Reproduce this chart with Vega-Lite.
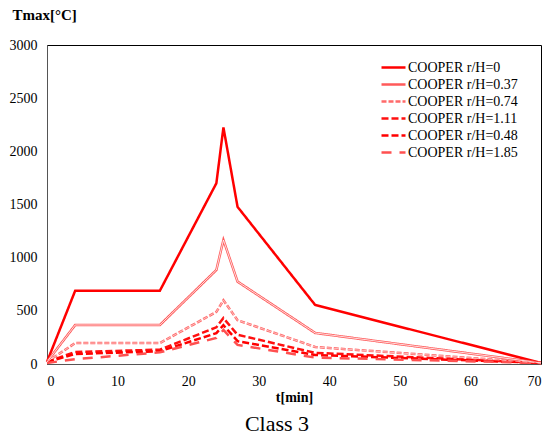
{
  "$schema": "https://vega.github.io/schema/vega-lite/v6.json",
  "width": 494,
  "height": 319,
  "autosize": {"type": "none"},
  "padding": {"left": 47, "top": 45, "right": 11, "bottom": 77},
  "background": "white",
  "config": {
    "font": "Times New Roman",
    "view": {"stroke": "#000", "strokeWidth": 1},
    "axis": {"grid": false, "domainColor": "#555", "tickColor": "#555", "labelColor": "#000", "titleColor": "#000", "labelFont": "Times New Roman", "titleFont": "Times New Roman", "labelFontSize": 14},
    "legend": {"labelFont": "Times New Roman", "titleFont": "Times New Roman"},
    "title": {"font": "Times New Roman"}
  },
  "title": {"text": "Class 3", "orient": "bottom", "fontSize": 22, "fontWeight": "normal", "color": "#000", "offset": 10, "anchor": "middle", "dx": -17},
  "data": {"values": [
    {"s": "COOPER r/H=0", "t": 0, "v": 20}, {"s": "COOPER r/H=0", "t": 4, "v": 690}, {"s": "COOPER r/H=0", "t": 16, "v": 690}, {"s": "COOPER r/H=0", "t": 24, "v": 1700}, {"s": "COOPER r/H=0", "t": 25, "v": 2225}, {"s": "COOPER r/H=0", "t": 27, "v": 1478}, {"s": "COOPER r/H=0", "t": 38, "v": 555}, {"s": "COOPER r/H=0", "t": 70, "v": 10},
    {"s": "COOPER r/H=0.37", "t": 0, "v": 20}, {"s": "COOPER r/H=0.37", "t": 4, "v": 367}, {"s": "COOPER r/H=0.37", "t": 16, "v": 367}, {"s": "COOPER r/H=0.37", "t": 24, "v": 884}, {"s": "COOPER r/H=0.37", "t": 25, "v": 1166}, {"s": "COOPER r/H=0.37", "t": 27, "v": 775}, {"s": "COOPER r/H=0.37", "t": 38, "v": 292}, {"s": "COOPER r/H=0.37", "t": 70, "v": 10},
    {"s": "COOPER r/H=0.74", "t": 0, "v": 20}, {"s": "COOPER r/H=0.74", "t": 4, "v": 197}, {"s": "COOPER r/H=0.74", "t": 16, "v": 197}, {"s": "COOPER r/H=0.74", "t": 24, "v": 490}, {"s": "COOPER r/H=0.74", "t": 25, "v": 600}, {"s": "COOPER r/H=0.74", "t": 27, "v": 412}, {"s": "COOPER r/H=0.74", "t": 38, "v": 160}, {"s": "COOPER r/H=0.74", "t": 70, "v": 10},
    {"s": "COOPER r/H=1.11", "t": 0, "v": 20}, {"s": "COOPER r/H=1.11", "t": 4, "v": 113}, {"s": "COOPER r/H=1.11", "t": 16, "v": 135}, {"s": "COOPER r/H=1.11", "t": 24, "v": 345}, {"s": "COOPER r/H=1.11", "t": 25, "v": 432}, {"s": "COOPER r/H=1.11", "t": 27, "v": 275}, {"s": "COOPER r/H=1.11", "t": 38, "v": 105}, {"s": "COOPER r/H=1.11", "t": 70, "v": 10},
    {"s": "COOPER r/H=0.48", "t": 0, "v": 20}, {"s": "COOPER r/H=0.48", "t": 4, "v": 94}, {"s": "COOPER r/H=0.48", "t": 16, "v": 120}, {"s": "COOPER r/H=0.48", "t": 24, "v": 290}, {"s": "COOPER r/H=0.48", "t": 25, "v": 365}, {"s": "COOPER r/H=0.48", "t": 27, "v": 215}, {"s": "COOPER r/H=0.48", "t": 38, "v": 85}, {"s": "COOPER r/H=0.48", "t": 70, "v": 10},
    {"s": "COOPER r/H=1.85", "t": 0, "v": 10}, {"s": "COOPER r/H=1.85", "t": 4, "v": 45}, {"s": "COOPER r/H=1.85", "t": 16, "v": 110}, {"s": "COOPER r/H=1.85", "t": 24, "v": 245}, {"s": "COOPER r/H=1.85", "t": 25, "v": 320}, {"s": "COOPER r/H=1.85", "t": 27, "v": 180}, {"s": "COOPER r/H=1.85", "t": 38, "v": 60}, {"s": "COOPER r/H=1.85", "t": 70, "v": 10}
  ]},
  "encoding": {
    "x": {"field": "t", "type": "quantitative", "scale": {"domain": [0, 70], "nice": false},
      "axis": {"title": "t[min]", "titleFontWeight": "bold", "titleFontSize": 14, "titlePadding": 2,
        "values": [0,1,2,3,4,5,6,7,8,9,10,11,12,13,14,15,16,17,18,19,20,21,22,23,24,25,26,27,28,29,30,31,32,33,34,35,36,37,38,39,40,41,42,43,44,45,46,47,48,49,50,51,52,53,54,55,56,57,58,59,60,61,62,63,64,65,66,67,68,69,70],
        "labelExpr": "datum.value % 10 === 0 ? datum.label : ''", "tickSize": 0, "labelPadding": 10,
        "encode": {"ticks": {"update": {"y2": {"signal": "datum.value % 10 === 0 ? -5 : -3"}}}}}},
    "y": {"field": "v", "type": "quantitative", "scale": {"domain": [0, 3000], "nice": false},
      "axis": {"title": "Tmax[°C]", "titleFontWeight": "bold", "titleFontSize": 15, "titleAngle": 0, "titleAlign": "left", "titleBaseline": "middle", "titleX": -35, "titleY": -31,
        "values": [0,50,100,150,200,250,300,350,400,450,500,550,600,650,700,750,800,850,900,950,1000,1050,1100,1150,1200,1250,1300,1350,1400,1450,1500,1550,1600,1650,1700,1750,1800,1850,1900,1950,2000,2050,2100,2150,2200,2250,2300,2350,2400,2450,2500,2550,2600,2650,2700,2750,2800,2850,2900,2950,3000],
        "labelExpr": "datum.value % 500 === 0 ? datum.label : ''", "format": "d", "tickSize": 0, "labelPadding": 10,
        "encode": {"ticks": {"update": {"x2": {"signal": "datum.value % 500 === 0 ? 5 : 3"}}}}}}
  },
  "layer": [
    {"mark": {"type": "line", "strokeCap": "butt"},
      "encoding": {
        "detail": {"field": "s"},
        "color": {"field": "s", "type": "nominal", "scale": {"domain": ["COOPER r/H=0", "COOPER r/H=0.37", "COOPER r/H=0.74", "COOPER r/H=1.11", "COOPER r/H=0.48", "COOPER r/H=1.85"], "range": ["#ff0000", "#ff5a5a", "#ff6a6a", "#ff1010", "#ff0000", "#ff5050"]},
          "legend": {"title": null, "orient": "none", "legendX": 333, "legendY": 14, "symbolType": "stroke", "symbolSize": 576, "symbolStrokeWidth": 2.5, "labelFontSize": 14, "labelColor": "#000", "labelOffset": 1, "clipHeight": 17, "rowPadding": 0, "labelLimit": 200}},
        "strokeDash": {"field": "s", "type": "nominal", "scale": {"domain": ["COOPER r/H=0", "COOPER r/H=0.37", "COOPER r/H=0.74", "COOPER r/H=1.11", "COOPER r/H=0.48", "COOPER r/H=1.85"], "range": [[1, 0], [1, 0], [5, 2], [7, 3], [7, 3], [10, 8]]},
          "legend": {"title": null, "orient": "none", "legendX": 333, "legendY": 14, "symbolType": "stroke", "symbolSize": 576, "symbolStrokeWidth": 2.5, "labelFontSize": 14, "labelColor": "#000", "labelOffset": 1, "clipHeight": 17, "rowPadding": 0, "labelLimit": 200}},
        "strokeWidth": {"value": 2.5}
      }},
    {"transform": [{"filter": "datum.s === 'COOPER r/H=0.37'"}],
      "mark": {"type": "line", "color": "#ffffff", "strokeWidth": 0.8}},
    {"transform": [{"filter": "datum.s === 'COOPER r/H=0.74'"}],
      "mark": {"type": "line", "color": "#ffd0d0", "strokeWidth": 0.8, "strokeDash": [5, 2], "strokeCap": "butt"}}
  ]
}
